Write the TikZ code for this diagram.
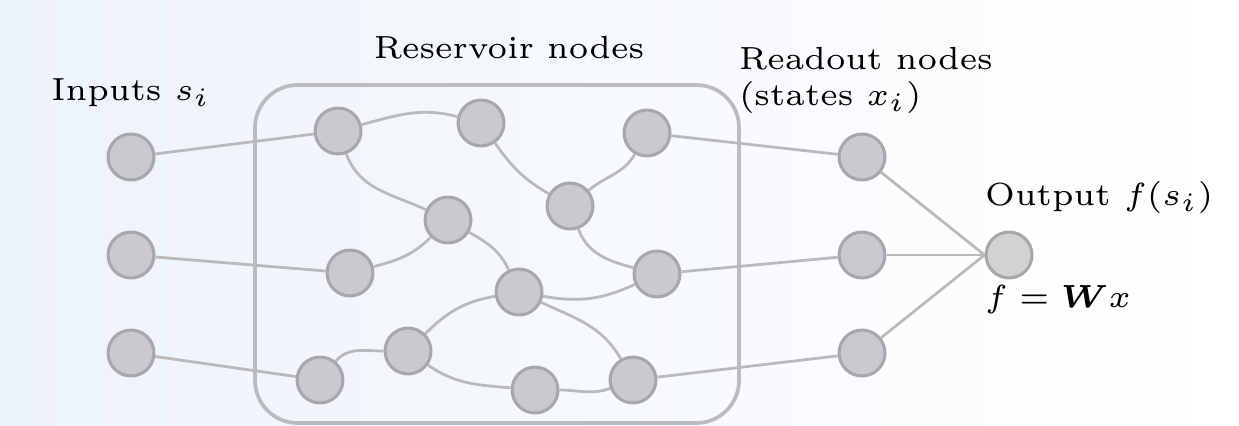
\documentclass[tikz,border=0pt]{standalone}
\usepackage{amsmath}
\usetikzlibrary{topaths}

\definecolor{bgleft}{RGB}{237,243,251}
\definecolor{nodefill}{RGB}{200,202,205}
\definecolor{outfill}{RGB}{209,210,209}
\definecolor{nodeedge}{RGB}{168,168,170}
\definecolor{linkgray}{RGB}{186,186,188}
\definecolor{boxgray}{RGB}{188,188,190}

\tikzset{
  neuron/.style={circle, draw=nodeedge, fill=nodefill, line width=0.58pt,
                 minimum size=8.6pt, inner sep=0pt},
  outneuron/.style={neuron, fill=outfill},
  link/.style={draw=linkgray, line width=0.52pt},
  lbl/.style={font=\fontsize{6}{7.2}\selectfont, inner sep=0pt, text=black},
}

\begin{document}
\begin{tikzpicture}[x=0.1875pt, y=-0.1875pt]
  % canvas with a soft blue-to-white background
  \useasboundingbox (0,0) rectangle (1239,425);
  \shade[left color=bgleft, right color=white] (0,0) rectangle (1239,425);

  % reservoir frame
  \draw[boxgray, line width=0.7pt, rounded corners=8pt] (255,85) rectangle (739,423);

  % input layer
  \node[neuron] (in1) at (131,157) {};
  \node[neuron] (in2) at (131,255) {};
  \node[neuron] (in3) at (131,353) {};

  % reservoir
  \node[neuron] (A) at (338,131) {};
  \node[neuron] (B) at (350,273) {};
  \node[neuron] (C) at (320,380) {};
  \node[neuron] (D) at (408,351) {};
  \node[neuron] (E) at (481,123) {};
  \node[neuron] (F) at (448,220) {};
  \node[neuron] (G) at (647,133) {};
  \node[neuron] (H) at (570,206) {};
  \node[neuron] (I) at (519,292) {};
  \node[neuron] (J) at (657,274) {};
  \node[neuron] (K) at (535,390) {};
  \node[neuron] (L) at (633,380) {};

  % readout layer and output
  \node[neuron] (r1) at (862,157) {};
  \node[neuron] (r2) at (862,255) {};
  \node[neuron] (r3) at (862,353) {};
  \node[outneuron] (out) at (1009,255) {};

  % input connections
  \draw[link] (in1) -- (A);
  \draw[link] (in2) -- (B);
  \draw[link] (in3) -- (C);

  % recurrent connections inside the reservoir
  \draw[link] (A) to[out=15, in=165] (E);
  \draw[link] (A) to[out=-70, in=155] (F);
  \draw[link] (B) to[out=15, in=-135] (F);
  \draw[link] (E) to[out=-55, in=150] (H);
  \draw[link] (G) to[out=-120, in=40] (H);
  \draw[link] (H) to[out=-70, in=165] (J);
  \draw[link] (F) to[out=-30, in=115] (I);
  \draw[link] (I) to[out=-10, in=-155] (J);
  \draw[link] (I) to[out=190, in=45] (D);
  \draw[link] (I) to[out=-25, in=120] (L);
  \draw[link] (C) to[out=50, in=180] (D);
  \draw[link] (D) to[out=-35, in=175] (K);
  \draw[link] (K) to[out=0, in=200] (L);

  % reservoir to readout
  \draw[link] (G) -- (r1);
  \draw[link] (J) -- (r2);
  \draw[link] (L) -- (r3);

  % readout to output
  \draw[link] (r1) -- (out.west);
  \draw[link] (r2) -- (out.west);
  \draw[link] (r3) -- (out.west);

  % labels
  \node[lbl, anchor=base] (tin) at (131,100) {Inputs $s_i$};
  \node[lbl, anchor=base] (tres) at (509,58) {Reservoir nodes};
  \node[lbl, anchor=base west] (tread1) at (738,69) {Readout nodes};
  \node[lbl, anchor=base west] (tread2) at (738,105) {(states $x_i$)};
  \node[lbl, anchor=base west] (tout) at (984,205) {Output $f(s_i)$};
  \node[lbl, anchor=base west] (tfun) at (984,307) {$f = \boldsymbol{W} x$};
\end{tikzpicture}
\end{document}
